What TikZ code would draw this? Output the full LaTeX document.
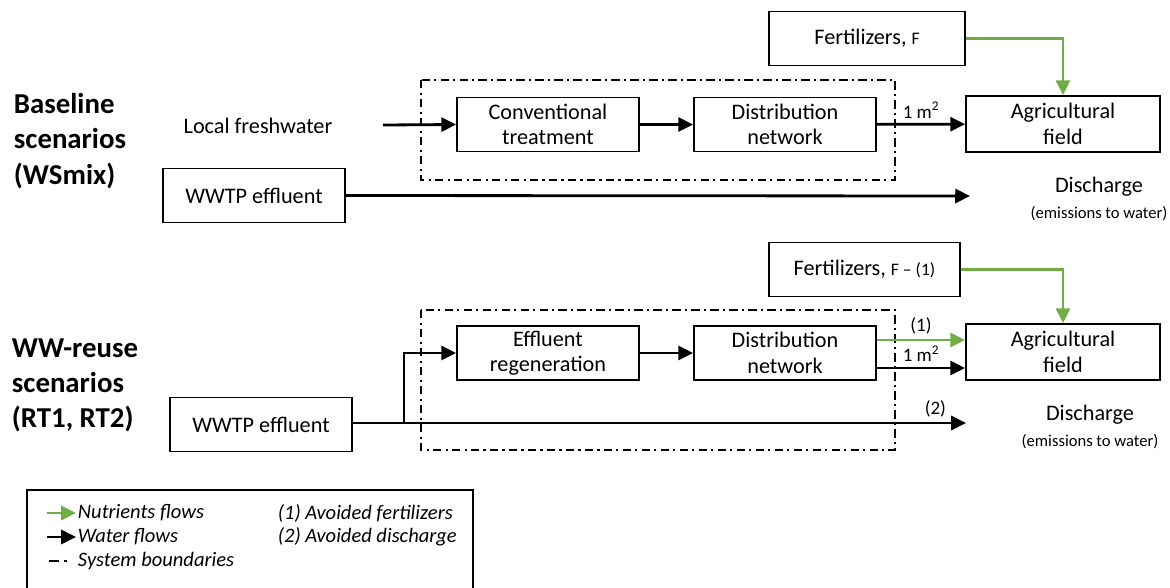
\documentclass[tikz,border=0pt]{standalone}
\usepackage{fontspec}
\setmainfont{Carlito}
\usepackage{tikz}
\usetikzlibrary{arrows.meta,positioning,calc}

\definecolor{nutgreen}{RGB}{112,173,71}

\begin{document}
\begin{tikzpicture}[
    x=0.025cm, y=-0.025cm,
    box/.style={rectangle, draw, line width=1.3pt, minimum width=182*0.025cm, minimum height=54*0.025cm, align=center, inner sep=1pt, font=\fontsize{15.8}{18}\selectfont},
    heading/.style={anchor=west, align=left, font=\fontsize{20.5}{25}\selectfont\bfseries},
    plain/.style={align=center, font=\fontsize{15.8}{18}\selectfont},
    small/.style={font=\fontsize{13.5}{15}\selectfont},
    legtext/.style={anchor=west, font=\fontsize{14.6}{16}\selectfont\itshape},
    arrow/.style={-{Triangle[length=10.5pt,width=10pt]}, line width=2pt},
    nutarrow/.style={arrow, nutgreen},
    boundary/.style={line width=1.3pt, dash pattern=on 6pt off 3pt on 1.5pt off 3pt}
]
\useasboundingbox (0,0) rectangle (1170,587);

% Baseline scenarios
\node[heading] (head1) at (9,141) {Baseline\\scenarios\\(WSmix)};
\node[plain] (fresh) at (258,126) {Local freshwater};
\coordinate (freshend) at (383,125);
\node[box] (conv) at (548,124.5) {Conventional\\treatment};
\node[box] (dist1) at (785,124.5) {Distribution\\network};
\node[box, minimum width=196*0.025cm] (fert1) at (867,38.5) {Fertilizers, {\fontsize{12.5}{14}\selectfont F}};
\node[box, minimum width=194*0.025cm, minimum height=56*0.025cm] (agri1) at (1063,124) {Agricultural\\field};
\node[box] (wwtp1) at (254,195.5) {WWTP effluent};
\node[plain] (disch1) at (1099,199) {Discharge\\{\fontsize{11.8}{14}\selectfont(emissions to water)}};
\coordinate (dischend1) at (970,196);

% System boundary
\draw[boundary] (421,80) rectangle (895,180);

% Arrows
\draw[arrow] (freshend) -- (conv.west);
\draw[arrow] (conv) -- (dist1);
\draw[arrow] (dist1) -- node[above, small] {1 m\textsuperscript{2}} (agri1);
\draw[nutarrow] (fert1.east) -| (agri1.north);
\draw[arrow] (wwtp1.east) -- (dischend1);

% WW-reuse scenarios
\node[heading] (head2) at (7,385) {WW-reuse\\scenarios\\(RT1, RT2)};
\node[box] (regen) at (548,353) {Effluent\\regeneration};
\node[box] (dist2) at (785,353) {Distribution\\network};
\node[box, minimum width=191*0.025cm] (fert2) at (864.5,269.5) {Fertilizers, {\fontsize{12.5}{14}\selectfont F -- (1)}};
\node[box, minimum width=194*0.025cm, minimum height=56*0.025cm] (agri2) at (1063,352) {Agricultural\\field};
\node[box] (wwtp2) at (261,424.5) {WWTP effluent};
\node[plain] (disch2) at (1090,427) {Discharge\\{\fontsize{11.8}{14}\selectfont(emissions to water)}};
\coordinate (split) at (404,423);
\coordinate (dischend2) at (966,423);

% System boundary
\draw[boundary] (421,310) rectangle (895,450);

% Arrows
\draw[arrow] (wwtp2.east |- split) -- node[pos=0.95, above, small] {(2)} (dischend2);
\draw[arrow] (split) |- (regen.west);
\draw[arrow] (regen) -- (dist2);
\draw[nutarrow] ($(dist2.east)+(0,-13)$) -- node[above, small, text=black] {(1)} ($(agri2.west)+(0,-12)$);
\draw[arrow] ($(dist2.east)+(0,15)$) -- node[above, small] {1 m\textsuperscript{2}} ($(agri2.west)+(0,16)$);
\draw[nutarrow] (fert2.east) -| (agri2.north);

% Legend
\draw[line width=1.3pt] (27,490) rectangle (473,610);
\coordinate (leg1a) at (47,513); \coordinate (leg1b) at (76,513);
\coordinate (leg2a) at (47,537); \coordinate (leg2b) at (76,537);
\coordinate (leg3a) at (49,561); \coordinate (leg3b) at (67,561);
\draw[nutarrow] (leg1a) -- (leg1b);
\draw[arrow] (leg2a) -- (leg2b);
\draw[line width=1.6pt, dash pattern=on 7pt off 4pt on 1.5pt off 10pt] (leg3a) -- (leg3b);
\node[legtext] (nutleg) at (73,513) {Nutrients flows};
\node[legtext] (watleg) at (73,537) {Water flows};
\node[legtext] (sysleg) at (73,561) {System boundaries};
\node[legtext] (avfert) at (273,513) {(1) Avoided fertilizers};
\node[legtext] (avdisch) at (273,537) {(2) Avoided discharge};

\end{tikzpicture}
\end{document}
